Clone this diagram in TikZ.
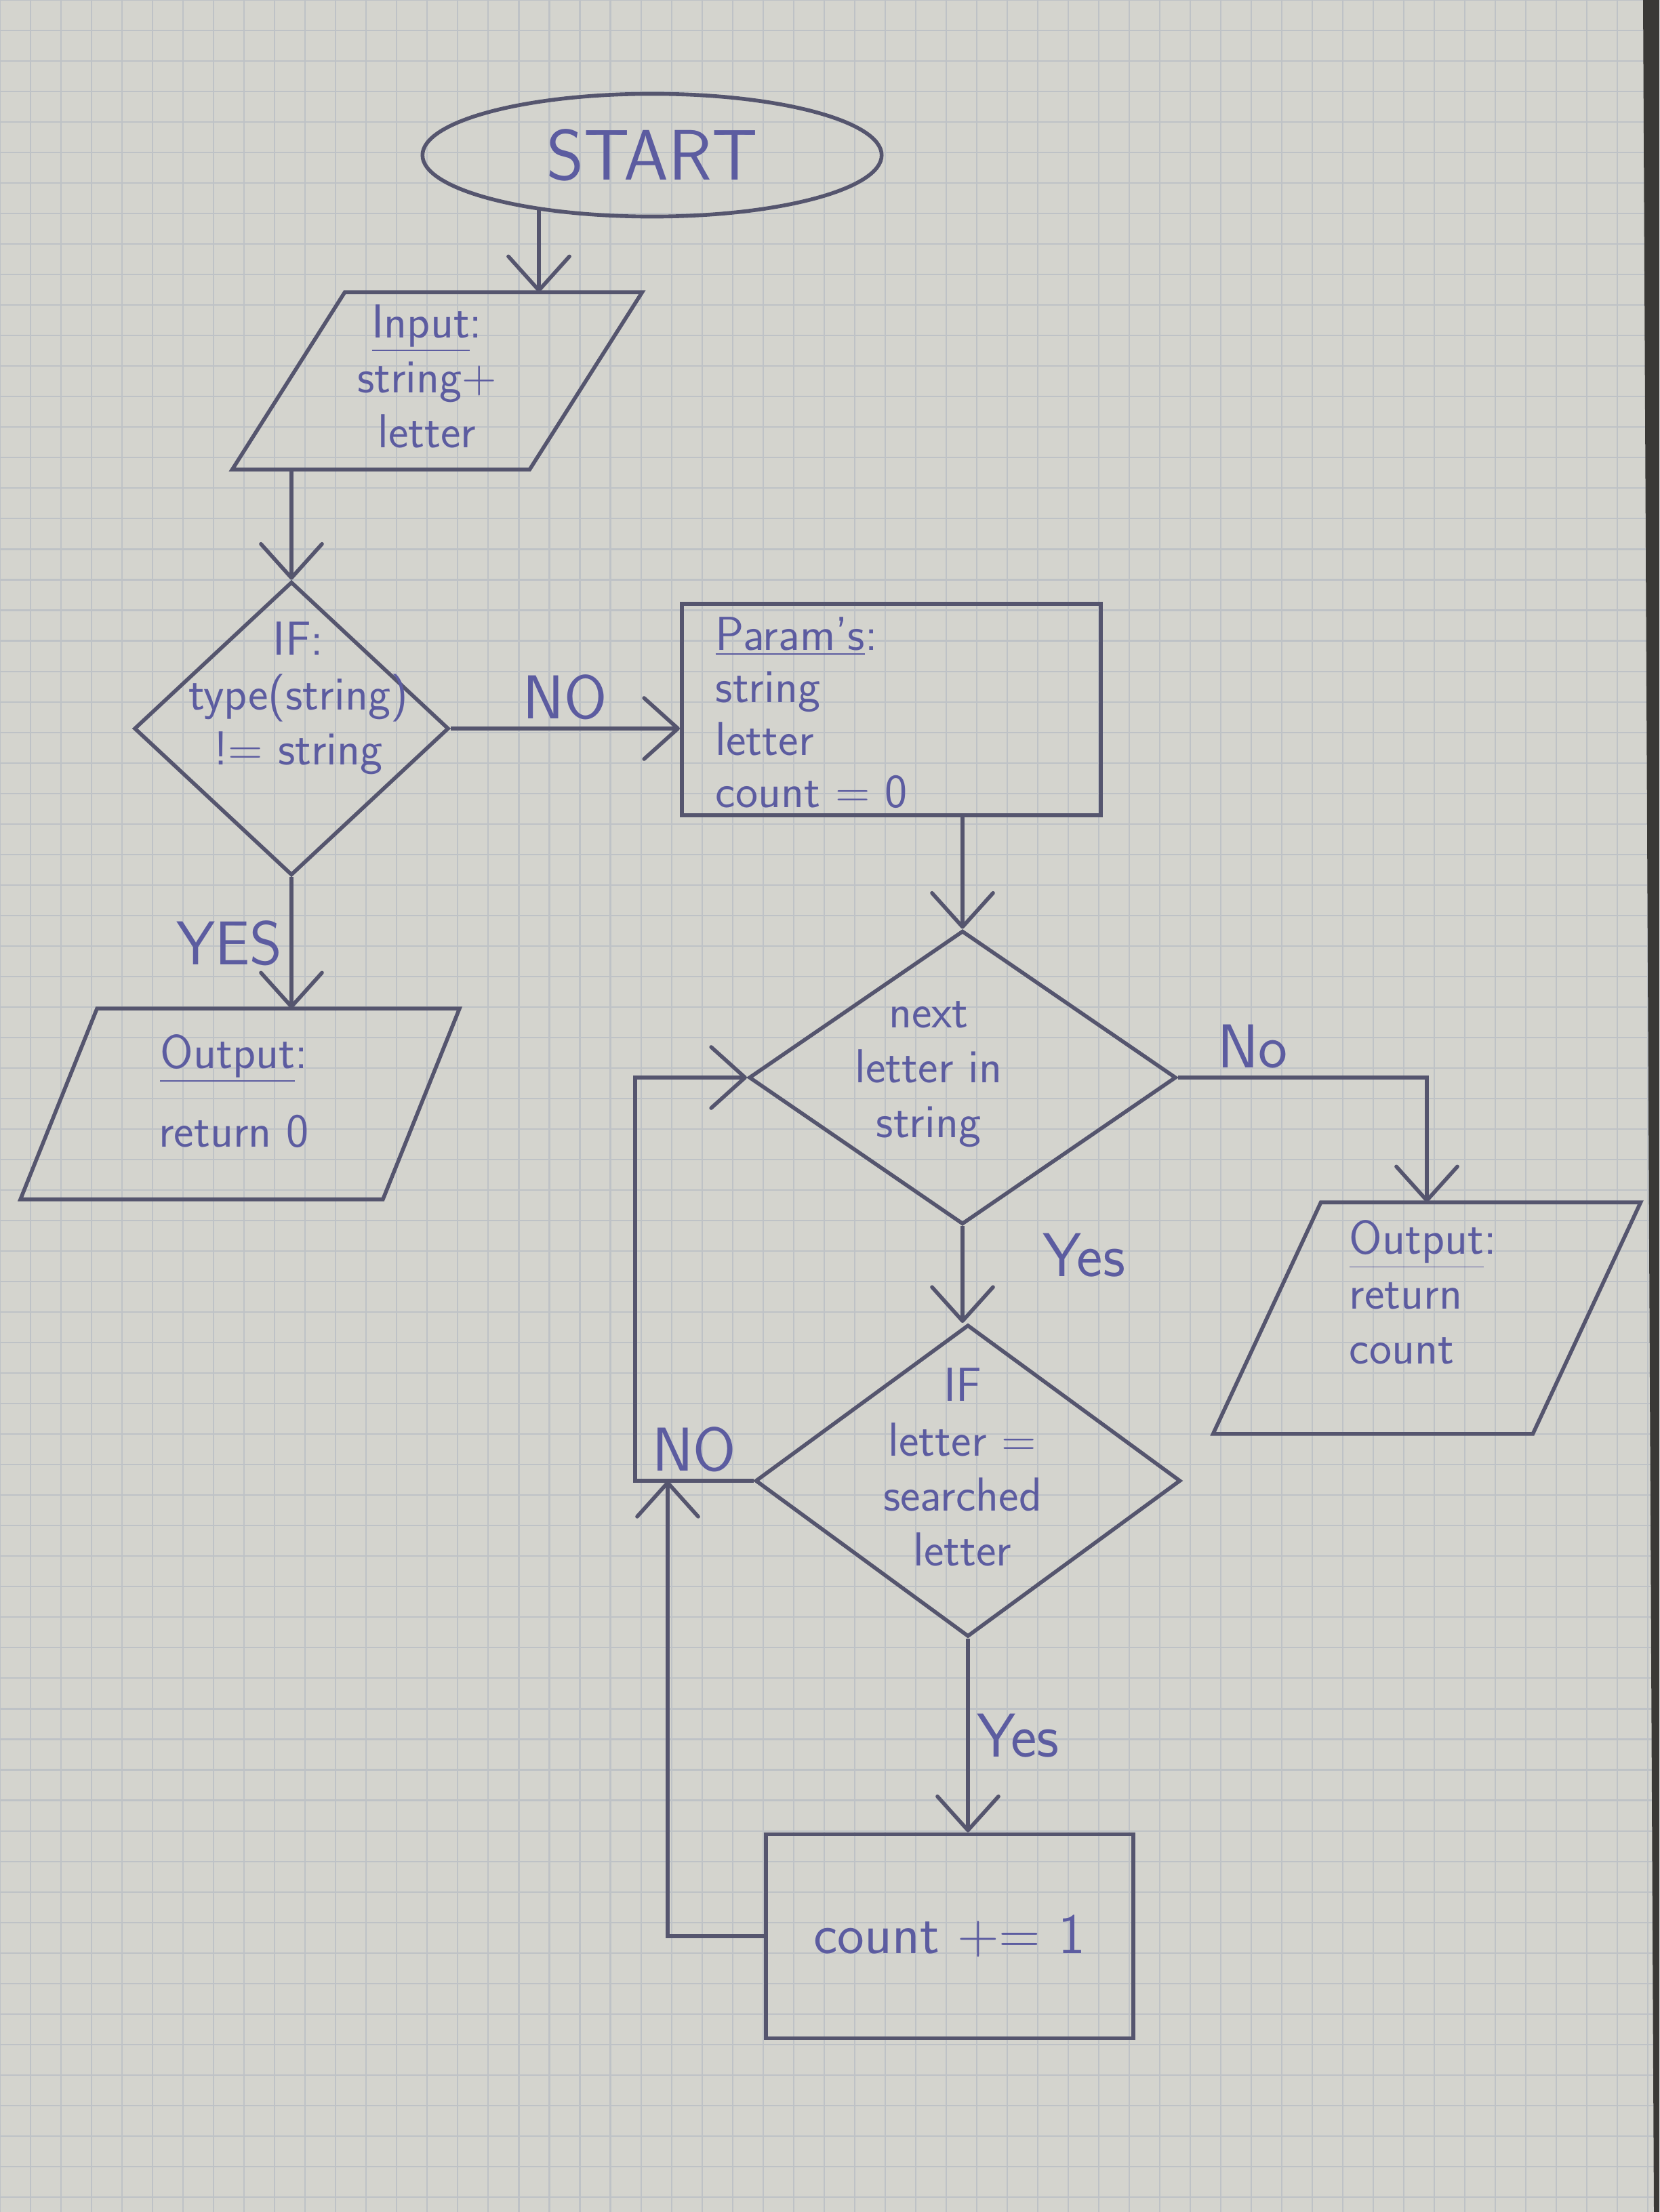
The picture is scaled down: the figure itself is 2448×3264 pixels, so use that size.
\documentclass[tikz,border=0pt]{standalone}
\usetikzlibrary{shapes.geometric,arrows.meta,calc}
\definecolor{paper}{HTML}{D4D4CE}
\definecolor{gridc}{HTML}{BEC2C6}
\definecolor{ink}{HTML}{55556E}
\definecolor{pen}{HTML}{5C5CA0}
\definecolor{desk}{HTML}{3A3936}
% outline of an input/output parallelogram around node #1, slanted by #2
\newcommand\ioframe[2]{\draw[line] (#1.south west) -- ($(#1.south east)+(-#2,0)$)
  -- (#1.north east) -- ($(#1.north west)+(#2,0)$) -- cycle;}
\begin{document}
\begin{tikzpicture}[x=0.01cm,y=-0.01cm,
  line/.style={draw=ink,line width=1.6pt},
  arr/.style={line,-{Straight Barb[length=5mm,width=9mm,round]}},
  hand/.style={text=pen,font=\sffamily\fontsize{20}{23}\selectfont,inner sep=0pt},
  lbl/.style={text=pen,font=\sffamily\fontsize{26}{28}\selectfont,inner sep=3pt},
  terminal/.style={ellipse,line,inner sep=0pt},
  io/.style={rectangle,inner sep=0pt},
  decision/.style={diamond,line,inner sep=0pt},
  process/.style={rectangle,line,inner sep=0pt}]

% sheet of squared paper
\useasboundingbox (0,0) rectangle (2448,3264);
\fill[paper] (0,0) rectangle (2448,3264);
\draw[gridc,line width=0.6pt,step=0.45cm] (0,3264) grid (2448,0);
\fill[desk] (2424,0) -- (2448,0) -- (2448,3264) -- (2440,3264) -- cycle;

% shapes
\node[terminal,minimum width=6.77cm,minimum height=1.81cm,text=pen,
      font=\sffamily\fontsize{30}{32}\selectfont] (start) at (962,229) {START};
\node[io,minimum width=6.03cm,minimum height=2.6cm] (in) at (645,562) {};
\ioframe{in}{166}
\node[decision,minimum width=4.64cm,minimum height=4.33cm] (d1) at (430,1075) {};
\node[process,minimum width=6.18cm,minimum height=3.12cm] (params) at (1315,1047) {};
\node[io,minimum width=6.46cm,minimum height=2.8cm] (out1) at (354,1629) {};
\ioframe{out1}{113}
\node[decision,minimum width=6.3cm,minimum height=4.33cm] (d2) at (1420,1590) {};
\node[io,minimum width=6.29cm,minimum height=3.4cm] (out2) at (2105,1945) {};
\ioframe{out2}{159}
\node[decision,minimum width=6.27cm,minimum height=4.6cm] (d3) at (1428,2185) {};
\node[process,minimum width=5.42cm,minimum height=3.01cm,text=pen,
      font=\sffamily\fontsize{24}{26}\selectfont] (count) at (1401,2857) {count += 1};

% texts inside the shapes
\node[hand,align=center] (int) at (630,555) {\underline{Input}:\\ string+\\ letter};
\node[hand,align=center] (d1t) at (440,1030) {IF:\\ type(string)\\ != string};
\node[hand,align=left,anchor=north west,font=\sffamily\fontsize{20}{22}\selectfont]
     (pt) at (1055,910) {\underline{Param's}:\\ string\\ letter\\ count = 0};
\node[hand,align=center] (o1t) at (345,1610) {\underline{Output}:\\[10pt] return 0};
\node[hand,align=center] (d2t) at (1370,1585) {next\\ letter in\\ string};
\node[hand,align=left,anchor=north west] (o2t) at (1990,1800)
     {\underline{Output}:\\ return\\ count};
\node[hand,align=center] (d3t) at (1420,2165) {IF\\ letter =\\ searched\\ letter};

% junctions of the loop back
\coordinate (jn) at (937,2185);
\coordinate (jn2) at (985,2185);

% connectors
\draw[arr] (start.206) -- (start.206 |- in.north);
\draw[arr] (in.south -| d1.north) -- (d1.north);
\draw[arr] (d1.east) -- node[lbl,above]{NO} (d1.east -| params.west);
\draw[arr] (d1.south) -- node[lbl,left]{YES} (d1.south |- out1.north);
\draw[arr] (params.south -| d2.north) -- (d2.north);
\draw[arr] (d2.east) -| node[lbl,pos=0.15,above]{No} (out2.north);
\draw[arr] (d2.south) -- node[lbl,right,xshift=30,yshift=8]{Yes} (d2.south |- d3.north);
\draw[arr] (d3.west) -- node[lbl,above]{NO} (jn) |- (d2.west);
\draw[arr] (d3.south) -- node[lbl,right]{Yes} (d3.south |- count.north);
\draw[arr] (count.west) -| (jn2);

\end{tikzpicture}
\end{document}
